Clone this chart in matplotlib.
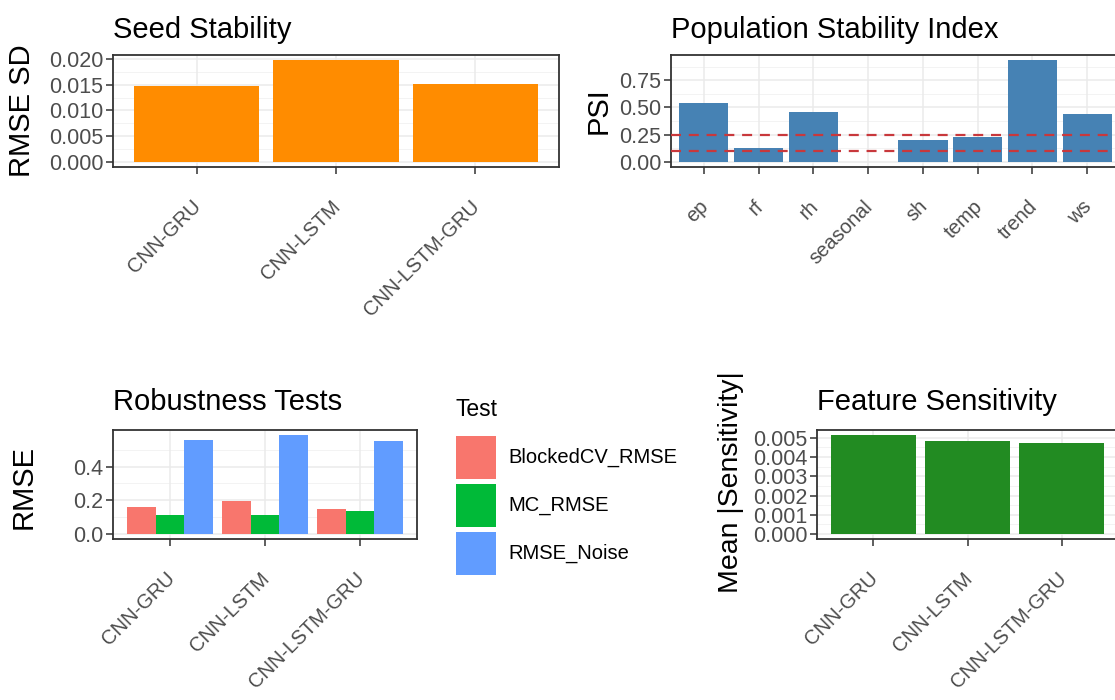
import matplotlib
matplotlib.use("Agg")
import matplotlib.pyplot as plt
from matplotlib.patches import Rectangle
from matplotlib.transforms import ScaledTranslation
import numpy as np

plt.rcParams['font.family'] = ['Liberation Sans', 'DejaVu Sans']

# ---------------- data ----------------
models = ["CNN-GRU", "CNN-LSTM", "CNN-LSTM-GRU"]
seed_sd = [0.0148, 0.0198, 0.0152]

psi_features = ["ep", "rf", "rh", "seasonal", "sh", "temp", "trend", "ws"]
psi_values = [0.54, 0.125, 0.46, 0.0, 0.205, 0.225, 0.935, 0.44]
psi_thresholds = [0.1, 0.25]

tests = ["BlockedCV_RMSE", "MC_RMSE", "RMSE_Noise"]
blocked_cv = [0.160, 0.198, 0.150]
mc_rmse = [0.111, 0.112, 0.135]
rmse_noise = [0.558, 0.588, 0.551]

sensitivity = [0.00515, 0.00482, 0.00472]

seed_ticks = [0.000, 0.005, 0.010, 0.015, 0.020]
psi_ticks = [0.00, 0.25, 0.50, 0.75]
rob_ticks = [0.0, 0.2, 0.4]
sens_ticks = [0.000, 0.001, 0.002, 0.003, 0.004, 0.005]

# ---------------- style ----------------
W, H = 1115, 700
fig = plt.figure(figsize=(W / 100, H / 100), dpi=100)

YTICK_FS = 15.5
XTICK_FS = 14.5
TITLE_FS = 21
AXT_FS = 21
TICK_COL = "#4D4D4D"
GRID_MAJ = "#EBEBEB"
GRID_MIN = "#F3F3F3"
BORDER = "#333333"


def add_ax(l, r, t, b):
    return fig.add_axes([l / W, 1 - b / H, (r - l) / W, (b - t) / H])


def style(ax, ncat, yticks, fmt, ymax):
    ax.set_xlim(0.4, ncat + 0.6)
    ax.set_ylim(-0.05 * ymax, 1.05 * ymax)
    ax.set_yticks(yticks)
    ax.set_yticklabels([fmt.format(v) for v in yticks])
    minors = [(yticks[i] + yticks[i + 1]) / 2 for i in range(len(yticks) - 1)]
    step = yticks[1] - yticks[0]
    if yticks[-1] + step / 2 < 1.05 * ymax:
        minors.append(yticks[-1] + step / 2)
    for m in minors:
        ax.axhline(m, color=GRID_MIN, lw=0.7, zorder=0)
    for v in yticks:
        ax.axhline(v, color=GRID_MAJ, lw=1.1, zorder=0)
    for i in range(1, ncat + 1):
        ax.axvline(i, color=GRID_MAJ, lw=1.1, zorder=0)
    ax.set_xticks(range(1, ncat + 1))
    for s in ax.spines.values():
        s.set_color(BORDER)
        s.set_linewidth(1.3)
    ax.tick_params(axis='both', length=5, width=1.1, color=BORDER,
                   labelcolor=TICK_COL, pad=2)
    ax.tick_params(axis='y', labelsize=YTICK_FS)
    ax.set_facecolor("white")


def xlabels(ax, labels):
    ax.set_xticklabels(labels, rotation=45, ha='right', va='top',
                       rotation_mode='anchor', fontsize=XTICK_FS)
    off = ScaledTranslation(-5 / 100, -20 / 100, fig.dpi_scale_trans)
    for lab in ax.get_xticklabels():
        lab.set_transform(lab.get_transform() + off)


# ---- Seed Stability ----
ax1 = add_ax(113, 559, 55, 167)
x = np.arange(1, len(models) + 1)
ax1.bar(x, seed_sd, width=0.9, color="#FF8C00", zorder=2)
style(ax1, len(models), seed_ticks, "{:.3f}", max(seed_sd))
xlabels(ax1, models)
fig.text(113 / W, 1 - 38 / H, "Seed Stability", fontsize=TITLE_FS, va='baseline', ha='left')
fig.text(22 / W, 1 - 111 / H, "RMSE SD", fontsize=AXT_FS, rotation=90, va='center', ha='center')

# ---- Population Stability Index ----
ax2 = add_ax(671, 1120, 55, 167)
xp = np.arange(1, len(psi_features) + 1)
ax2.bar(xp, psi_values, width=0.9, color="#4682B4", zorder=2)
style(ax2, len(psi_features), psi_ticks, "{:.2f}", max(psi_values))
for th in psi_thresholds:
    ax2.axhline(th, color="#C8383C", lw=1.6, ls=(0, (4.5, 3.5)), zorder=3)
xlabels(ax2, psi_features)
fig.text(671 / W, 1 - 38 / H, "Population Stability Index", fontsize=TITLE_FS, va='baseline', ha='left')
fig.text(599 / W, 1 - 111 / H, "PSI", fontsize=AXT_FS, rotation=90, va='center', ha='center')

# ---- Robustness Tests ----
ax3 = add_ax(113, 417, 430, 539)
colors = ["#F8766D", "#00BA38", "#619CFF"]
series = [blocked_cv, mc_rmse, rmse_noise]
bw = 0.3
for k, (vals, c) in enumerate(zip(series, colors)):
    ax3.bar(x + (k - 1) * bw, vals, width=bw, color=c, zorder=2)
style(ax3, len(models), rob_ticks, "{:.1f}", max(max(s) for s in series))
xlabels(ax3, models)
fig.text(113 / W, 1 - 410 / H, "Robustness Tests", fontsize=TITLE_FS, va='baseline', ha='left')
fig.text(24 / W, 1 - 487 / H, "RMSE", fontsize=AXT_FS, rotation=90, va='center', ha='center')

# legend
fig.text(455 / W, 1 - 410 / H, "Test", fontsize=16.5, va='center', ha='left')
key_tops = [436, 484, 532]
for name, c, kt in zip(tests, colors, key_tops):
    fig.add_artist(Rectangle((456 / W, 1 - (kt + 43) / H), 40 / W, 43 / H,
                             transform=fig.transFigure, facecolor=c, edgecolor='none'))
    fig.text(508 / W, 1 - (kt + 21.5) / H, name, fontsize=14.5, va='center', ha='left')

# ---- Feature Sensitivity ----
ax4 = add_ax(817, 1118, 430, 539)
ax4.bar(x, sensitivity, width=0.9, color="#228B22", zorder=2)
style(ax4, len(models), sens_ticks, "{:.3f}", max(sensitivity))
xlabels(ax4, models)
fig.text(817 / W, 1 - 410 / H, "Feature Sensitivity", fontsize=TITLE_FS, va='baseline', ha='left')
fig.text(731 / W, 1 - 482 / H, "Mean |Sensitivity|", fontsize=20.5, rotation=90, va='center', ha='center')

fig.savefig("out.png", dpi=100, facecolor="white")
